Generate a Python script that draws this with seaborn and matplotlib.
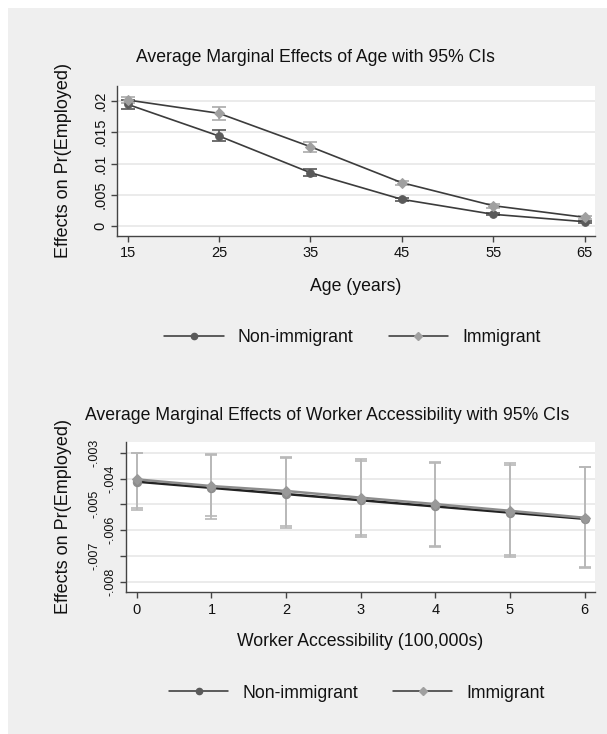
import numpy as np
import pandas as pd
import matplotlib
matplotlib.use("Agg")
import matplotlib.pyplot as plt
from matplotlib.lines import Line2D
from matplotlib.patches import Rectangle
from matplotlib.ticker import FuncFormatter
import seaborn as sns

# --- data ---
ages = [15, 25, 35, 45, 55, 65]
age_non = [0.01947, 0.01440, 0.00853, 0.00427, 0.00187, 0.00069]
age_non_lo = [0.01880, 0.01360, 0.00800, 0.00405, 0.00170, 0.00055]
age_non_hi = [0.02015, 0.01536, 0.00907, 0.00450, 0.00205, 0.00083]
age_imm = [0.02016, 0.01803, 0.01269, 0.00693, 0.00325, 0.00139]
age_imm_lo = [0.01975, 0.01700, 0.01180, 0.00663, 0.00295, 0.00117]
age_imm_hi = [0.02057, 0.01910, 0.01349, 0.00723, 0.00355, 0.00161]

access = [0, 1, 2, 3, 4, 5, 6]
acc_non = [-0.00412, -0.00436, -0.00460, -0.00484, -0.00508, -0.00532, -0.00556]
acc_non_lo = [-0.00513, -0.00545, -0.00584, -0.00618, -0.00660, -0.00698, -0.00744]
acc_non_hi = [-0.00301, -0.00310, -0.00319, -0.00331, -0.00340, -0.00348, -0.00356]
acc_imm = [-0.00403, -0.00429, -0.00448, -0.00474, -0.00499, -0.00525, -0.00552]
acc_imm_lo = [-0.00522, -0.00557, -0.00592, -0.00628, -0.00664, -0.00703, -0.00748]
acc_imm_hi = [-0.00300, -0.00306, -0.00317, -0.00326, -0.00335, -0.00340, -0.00354]

age_yticks = [0, 0.005, 0.01, 0.015, 0.02]
acc_yticks = [-0.008, -0.007, -0.006, -0.005, -0.004, -0.003]
groups = ["Non-immigrant", "Immigrant"]

sns.set_theme(style="white")
plt.rcParams["font.family"] = ["Liberation Sans", "DejaVu Sans"]

BG = "#efefef"
TXT = "#111111"
W, H = 607, 734
fig = plt.figure(figsize=(W / 100, H / 100), dpi=100)
fig.patch.set_facecolor("white")
fig.patches.append(Rectangle((8 / W, 0), 1, 1 - 8 / H, transform=fig.transFigure,
                             facecolor=BG, edgecolor="none", zorder=-10))


def stata_fmt(v, pos):
    s = f"{v:.3f}".rstrip("0").rstrip(".")
    s = s.replace("0.", ".")
    return "0" if s in ("-0", "") else s


def px(x, y):
    return x / W, 1 - y / H


def panel(rect, x, series, xlim, ylim, yticks, ci_colors, line_colors, mk_colors,
          lw, mk_sizes, capsize, ytick_size):
    ax = fig.add_axes(rect)
    ax.set_facecolor("white")
    for (y, lo, hi), cc, lc, mc, mk, ms in zip(series, ci_colors, line_colors,
                                               mk_colors, ["o", "D"], mk_sizes):
        y = np.array(y)
        ax.errorbar(x, y, yerr=[y - np.array(lo), np.array(hi) - y], fmt="none",
                    ecolor=cc, elinewidth=1.2, capsize=capsize, capthick=1.2, zorder=2)
        df = pd.DataFrame({"x": x, "y": y})
        sns.lineplot(data=df, x="x", y="y", ax=ax, color=lc, linewidth=lw,
                     marker=mk, markersize=ms,
                     markerfacecolor=mc, markeredgecolor=mc, zorder=3)
    ax.set_xlim(*xlim)
    ax.set_ylim(*ylim)
    ax.set_xticks(x)
    ax.set_yticks(yticks)
    ax.yaxis.set_major_formatter(FuncFormatter(stata_fmt))
    ax.grid(axis="y", color="#e8e8e8", linewidth=1.2)
    ax.grid(axis="x", visible=False)
    for s in ["top", "right"]:
        ax.spines[s].set_visible(False)
    for s in ["left", "bottom"]:
        ax.spines[s].set_color("#444444")
        ax.spines[s].set_linewidth(1.0)
    ax.tick_params(axis="both", direction="out", length=4.5, width=1, color="#444444",
                   labelcolor=TXT, left=True, bottom=True)
    ax.tick_params(axis="x", labelsize=10.5, pad=3)
    ax.tick_params(axis="y", labelsize=ytick_size, labelrotation=90, pad=2.5)
    for lab in ax.get_yticklabels():
        lab.set_va("center")
    ax.set_xlabel("")
    ax.set_ylabel("")
    return ax


ax1 = panel([117.1 / W, 1 - 236 / H, 478.3 / W, 150 / H], ages,
            [(age_non, age_non_lo, age_non_hi), (age_imm, age_imm_lo, age_imm_hi)],
            (13.86, 66.18), (-0.0016, 0.0224), age_yticks,
            ["#555555", "#aaaaaa"], ["#3c3c3c", "#3c3c3c"], ["#5a5a5a", "#a0a0a0"],
            1.2, [5.5, 5], 5, 10.5)

ax2 = panel([125.7 / W, 1 - 592.3 / H, 469.7 / W, 150.6 / H], access,
            [(acc_non, acc_non_lo, acc_non_hi), (acc_imm, acc_imm_lo, acc_imm_hi)],
            (-0.149, 6.145), (-0.00841, -0.00257), acc_yticks,
            ["#b8b8b8", "#b8b8b8"], ["#222222", "#8c8c8c"], ["#8c8c8c", "#999999"],
            1.8, [6, 5.5], 4.5, 9)

# Stata staggers crowded y labels into two columns
for i, t in enumerate(ax2.yaxis.get_major_ticks()):
    t.set_pad(2.0 if i % 2 == 0 else 13.5)

# titles, axis titles
fig.text(*px(315, 58), "Average Marginal Effects of Age with 95% CIs",
         ha="center", va="center", fontsize=12.7, color=TXT)
fig.text(*px(327.6, 415), "Average Marginal Effects of Worker Accessibility with 95% CIs",
         ha="center", va="center", fontsize=12.7, color=TXT)
fig.text(*px(356, 286.7), "Age (years)", ha="center", va="center",
         fontsize=12.7, color=TXT)
fig.text(*px(360.5, 641.7), "Worker Accessibility (100,000s)", ha="center",
         va="center", fontsize=12.7, color=TXT)
for yc in (160, 516):
    fig.text(*px(63.5, yc), "Effects on Pr(Employed)", ha="center", va="center",
             rotation=90, fontsize=13, color=TXT)

handles = [Line2D([], [], color="#333333", lw=1.1, marker="o", markersize=4.5,
                  markerfacecolor="#5a5a5a", markeredgecolor="#5a5a5a"),
           Line2D([], [], color="#333333", lw=1.1, marker="D", markersize=4,
                  markerfacecolor="#a0a0a0", markeredgecolor="#a0a0a0")]
for xc, yc in [(352.4, 338), (357, 693)]:
    fig.legend(handles, groups, loc="center", bbox_to_anchor=px(xc, yc), ncol=2,
               frameon=False, fontsize=12.7, handlelength=3.35, columnspacing=2.0,
               handletextpad=0.8, labelcolor=TXT)

fig.savefig("out.png", dpi=100, facecolor=fig.get_facecolor())
